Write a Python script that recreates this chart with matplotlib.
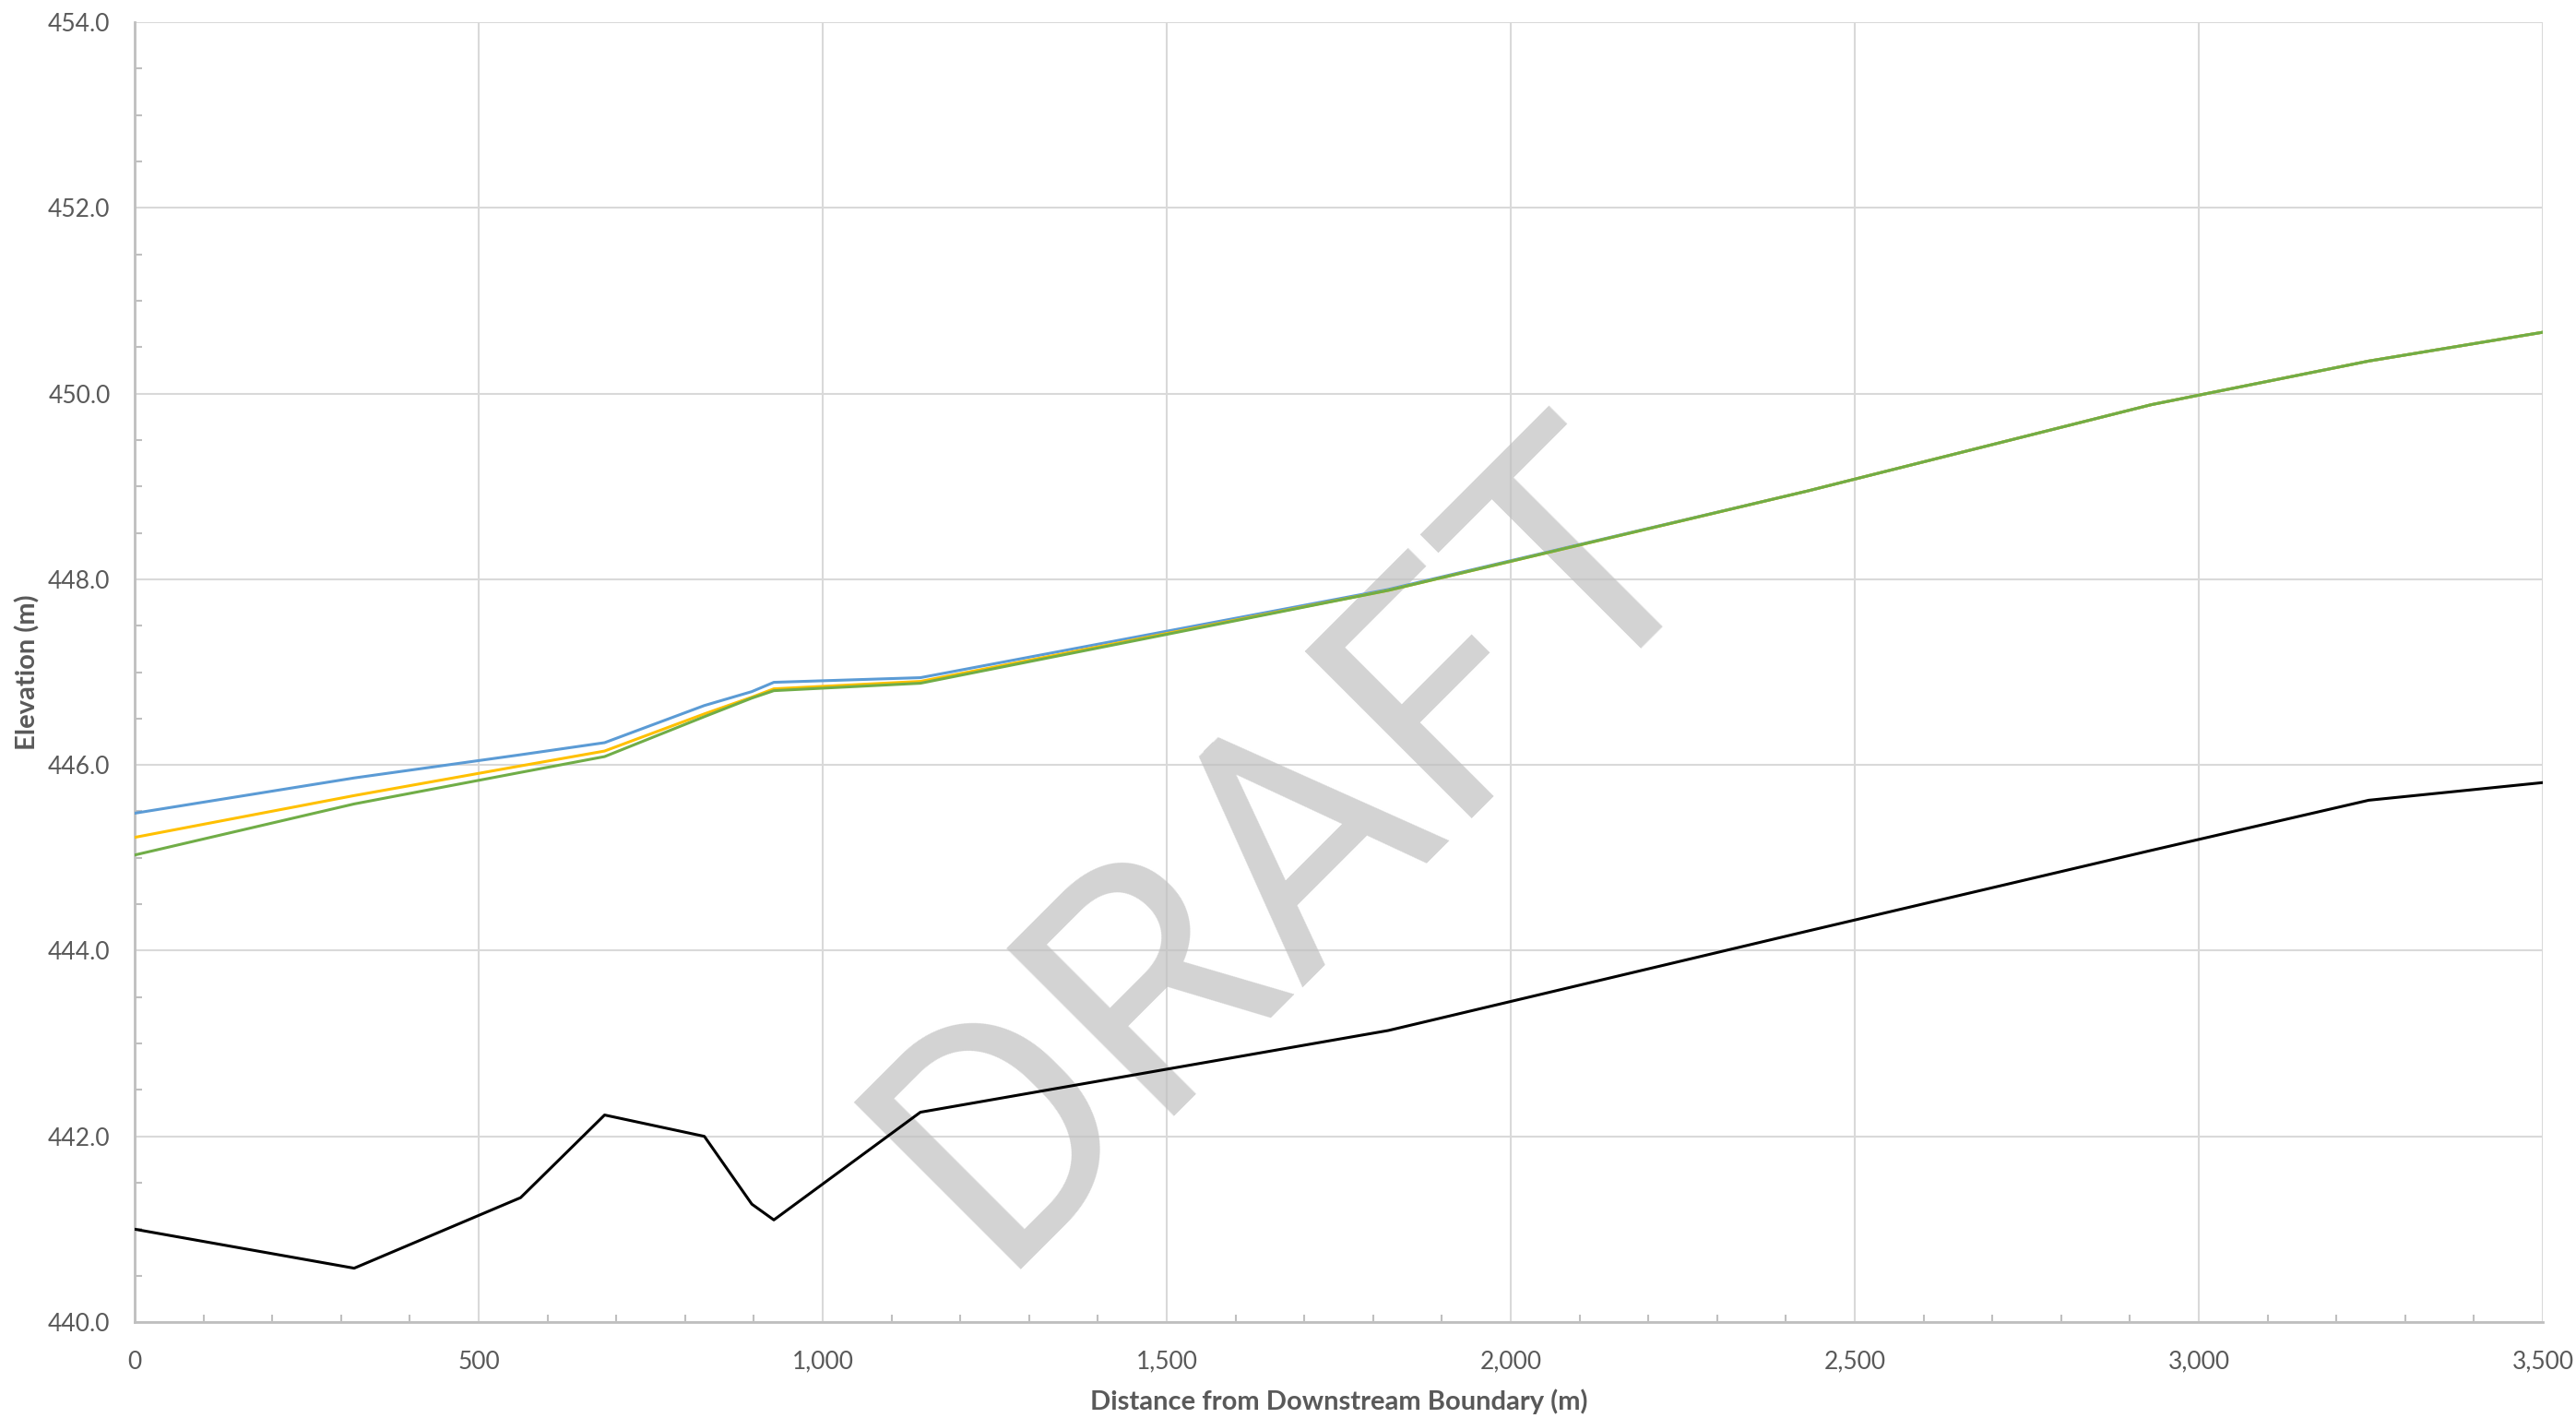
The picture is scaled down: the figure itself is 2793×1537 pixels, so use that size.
import matplotlib
matplotlib.use("Agg")
import matplotlib.pyplot as plt
from matplotlib.ticker import MultipleLocator, FuncFormatter

plt.rcParams['font.family'] = ['Lato', 'DejaVu Sans']

# Data (distance from downstream boundary in m, elevations in m)
stations = [0, 319, 561, 683, 828, 897, 929, 1142, 1822, 2431, 2931, 3247, 3500]
bed_elev = [441.00, 440.58, 441.34, 442.23, 442.00, 441.27, 441.10, 442.26, 443.14, 444.21, 445.08, 445.62, 445.81]
ws_blue = [445.48, 445.86, 446.11, 446.24, 446.64, 446.79, 446.89, 446.94, 447.89, 448.95, 449.88, 450.35, 450.66]
ws_yellow = [445.22, 445.67, 445.99, 446.15, 446.55, 446.73, 446.82, 446.90, 447.88, 448.95, 449.88, 450.35, 450.66]
ws_green = [445.03, 445.58, 445.92, 446.09, 446.52, 446.72, 446.80, 446.88, 447.88, 448.95, 449.88, 450.35, 450.66]

x_label = "Distance from Downstream Boundary (m)"
y_label = "Elevation (m)"
watermark = "DRAFT"

W, H, DPI = 2793, 1537, 100
fig = plt.figure(figsize=(W / DPI, H / DPI), dpi=DPI)
left, right, top, bottom = 146, 2757, 24, 1433
ax = fig.add_axes([left / W, 1 - bottom / H, (right - left) / W, (bottom - top) / H])

text_col = '#595959'
grid_col = '#d9d9d9'

ax.plot(stations, ws_blue, color='#5B9BD5', lw=2.2, zorder=3, solid_joinstyle='round')
ax.plot(stations, ws_yellow, color='#FFC000', lw=2.2, zorder=4, solid_joinstyle='round')
ax.plot(stations, ws_green, color='#70AD47', lw=2.2, zorder=5, solid_joinstyle='round')
ax.plot(stations, bed_elev, color='#000000', lw=2.2, zorder=6, solid_joinstyle='round')

ax.set_xlim(0, 3500)
ax.set_ylim(440, 454)
ax.xaxis.set_major_locator(MultipleLocator(500))
ax.xaxis.set_minor_locator(MultipleLocator(100))
ax.yaxis.set_major_locator(MultipleLocator(2))
ax.yaxis.set_minor_locator(MultipleLocator(0.5))
ax.xaxis.set_major_formatter(FuncFormatter(lambda v, p: f"{v:,.0f}"))
ax.yaxis.set_major_formatter(FuncFormatter(lambda v, p: f"{v:.1f}"))

ax.grid(True, which='major', color=grid_col, lw=1.5, zorder=0.5)
ax.set_axisbelow(True)

for s in ['top', 'right']:
    ax.spines[s].set_visible(False)
for s in ['left', 'bottom']:
    ax.spines[s].set_color('#bfbfbf')
    ax.spines[s].set_linewidth(2.0)

ax.tick_params(which='both', direction='in', color='#bfbfbf', width=1.5)
ax.tick_params(which='major', length=0)
ax.tick_params(which='minor', length=6)
ax.tick_params(axis='x', which='major', pad=22, labelsize=19, labelcolor=text_col)
ax.tick_params(axis='y', which='major', pad=19, labelsize=19, labelcolor=text_col)

ax.set_xlabel(x_label, fontsize=21, fontweight='bold', color=text_col, labelpad=12)
ax.set_ylabel(y_label, fontsize=21, fontweight='bold', color=text_col, labelpad=6)

ax.text(0.3566, 0.0405, watermark, transform=ax.transAxes, rotation=45,
        rotation_mode='anchor', ha='left', va='baseline',
        fontsize=259, family=['Roboto', 'DejaVu Sans'], color='#c0c0c0', alpha=0.7, zorder=1)

fig.savefig('out.png', dpi=DPI)
